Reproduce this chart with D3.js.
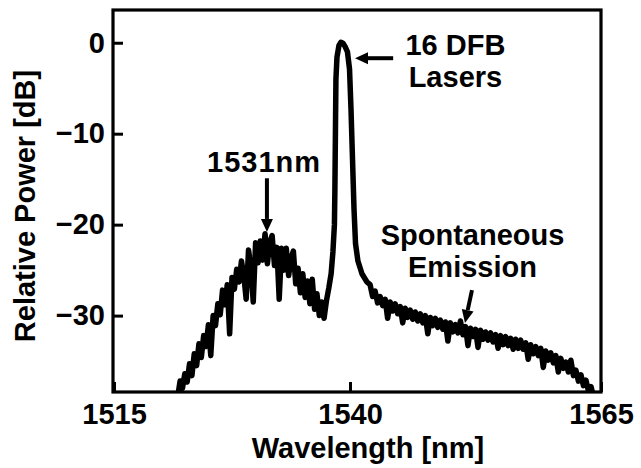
<!DOCTYPE html>
<html>
<head>
<meta charset="utf-8">
<script src="https://cdn.jsdelivr.net/npm/d3@7"></script>
<style>
  body { margin: 0; background: #fff; }
  text { font-family: "Liberation Sans", Arial, Helvetica, sans-serif; font-weight: bold; fill: #000; }
</style>
</head>
<body>
<script>
	// spectrum (nm, dB)
	var wavelength = [
		1521.75,1522,1522.25,1522.5,1522.75,1523,1523.25,1523.5,1523.75,1524,1524.25,1524.5,1524.75,
		1525,1525.25,1525.5,1525.75,1526,1526.25,1526.5,1526.75,1527,1527.25,1527.5,1527.75,
		1528,1528.25,1528.5,1528.75,1529,1529.25,1529.5,1529.75,1530,1530.25,1530.5,1530.75,
		1531,1531.25,1531.5,1531.75,1532,1532.25,1532.5,1532.75,1533,1533.25,1533.5,1533.75,
		1534,1534.25,1534.5,1534.75,1535,1535.25,1535.5,1535.75,1536,1536.25,1536.5,1536.75,
		1537,1537.25,1537.5,1537.75,1538,
		1538.19,1538.35,1538.40,1538.46,1538.51,1538.62,1538.83,1539.04,1539.26,1539.47,1539.73,
		1539.95,1540.10,1540.25,1540.40,1540.55,1540.79,1541.19,1541.69,
		1542,1542.25,1542.5,1542.75,1543,1543.25,1543.5,1543.75,1544,1544.25,1544.5,1544.75,
		1545,1545.25,1545.5,1545.75,1546,1546.25,1546.5,1546.75,1547,1547.25,1547.5,1547.75,
		1548,1548.25,1548.5,1548.75,1549,1549.25,1549.5,1549.75,1550,1550.25,1550.5,1550.75,
		1551,1551.25,1551.5,1551.75,1552,1552.25,1552.5,1552.75,1553,1553.25,1553.5,1553.75,
		1554,1554.25,1554.5,1554.75,1555,1555.25,1555.5,1555.75,1556,1556.25,1556.5,1556.75,
		1557,1557.25,1557.5,1557.75,1558,1558.25,1558.5,1558.75,1559,1559.25,1559.5,1559.75,
		1560,1560.25,1560.5,1560.75,1561,1561.25,1561.5,1561.75,1562,1562.25,1562.5,1562.75,
		1563,1563.25,1563.5,1563.75,1564,1564.25
	];
	var power = [
		-38.9,-37.2,-38.0,-36.4,-37.3,-35.3,-36.6,-34.2,-35.5,-33.1,-34.6,-32.2,-33.4,
		-31.0,-34.4,-30.0,-31.1,-28.7,-29.9,-27.2,-28.8,-26.6,-32.0,-25.8,-27.1,
		-24.9,-26.3,-24.0,-25.6,-28.2,-22.8,-24.6,-28.5,-22.0,-24.2,-21.8,-23.9,
		-21.0,-24.3,-21.9,-21.2,-24.5,-22.5,-28.2,-22.6,-25.0,-22.6,-25.6,-23.7,
		-22.9,-26.5,-24.8,-27.5,-25.4,-28.0,-26.2,-28.7,-26.0,-29.3,-27.6,-30.0,
		-28.5,-30.3,-28.4,-27.0,-25.4,
		-23.0,-20.0,-16.1,-9.5,-4.0,-1.6,-0.3,0.05,-0.05,-0.4,-1.0,
		-2.9,-7.3,-12.8,-18.3,-22.1,-24.0,-25.4,-26.3,
		-26.6,-27.9,-27.3,-28.6,-27.9,-28.9,-28.2,-30.3,-28.5,-29.5,-28.7,-29.8,
		-29.0,-30.8,-29.2,-30.2,-29.4,-30.4,-29.6,-30.6,-29.8,-30.8,-30.0,-32.0,
		-30.2,-31.1,-30.3,-31.3,-30.5,-31.5,-30.7,-32.8,-30.8,-31.8,-31.0,-31.9,
		-30.6,-32.1,-31.2,-33.3,-31.4,-32.3,-31.5,-33.5,-31.6,-32.6,-31.8,-32.7,
		-31.9,-32.9,-32.1,-33.6,-32.2,-33.2,-32.3,-33.3,-32.5,-33.7,-32.6,-33.6,
		-32.7,-33.7,-33.0,-34.8,-33.2,-34.2,-33.4,-34.4,-33.6,-35.7,-33.9,-34.9,
		-34.1,-35.2,-34.4,-36.2,-34.7,-35.8,-35.1,-36.2,-34.9,-36.6,-36.0,-37.2,
		-36.5,-37.7,-37.1,-38.3,-37.8,-38.9
	];

	var xTicks = [1515,1540,1565];
	var yTicks = [0,-10,-20,-30];
	var xDomain = [1515,1540,1565];
	var yDomain = [-38.4,3.6];

	var w = 641;
	var h = 468;
	var plotL = 113, plotR = 601, plotT = 10, plotB = 392;
	var fontSize = 29;

	var xScale = d3.scaleLinear()
					.domain(xDomain)
					.range([plotL+1,350,plotR]);

	var yScale = d3.scaleLinear()
					.domain(yDomain)
					.range([plotB,plotT]);

	var svg = d3.select("body")
				.append("svg")
				.attr("width",w)
				.attr("height",h);

	svg.append("rect")
		.attr("width",w)
		.attr("height",h)
		.attr("fill","#fff");

	svg.append("clipPath")
		.attr("id","plotclip")
		.append("rect")
		.attr("x",plotL)
		.attr("y",plotT)
		.attr("width",plotR-plotL)
		.attr("height",plotB-plotT);

	var points = wavelength.map(function(d,i){ return [d,power[i]]; });

	var line = d3.line()
				.x(function(d){ return xScale(d[0]); })
				.y(function(d){ return yScale(d[1]); });

	svg.append("path")
		.datum(points)
		.attr("clip-path","url(#plotclip)")
		.attr("d",line)
		.attr("fill","none")
		.attr("stroke","#000")
		.attr("stroke-width",5.5)
		.attr("stroke-linejoin","round")
		.attr("stroke-linecap","round");

	// axes with inward ticks
	var xAxis = svg.append("g")
		.attr("transform","translate(0,"+plotB+")")
		.call(d3.axisBottom(xScale)
				.tickValues(xTicks)
				.tickSize(-10)
				.tickSizeOuter(0)
				.tickPadding(11)
				.tickFormat(d3.format("d")));

	var yAxis = svg.append("g")
		.attr("transform","translate("+plotL+",0)")
		.call(d3.axisLeft(yScale)
				.tickValues(yTicks)
				.tickSize(-10)
				.tickSizeOuter(0)
				.tickPadding(8)
				.tickFormat(d3.format("d")));

	[xAxis,yAxis].forEach(function(g){
		g.select(".domain").remove();
		g.selectAll("line").attr("stroke","#000").attr("stroke-width",3);
		g.selectAll("text").attr("font-size",fontSize);
	});

	// frame
	svg.append("rect")
		.attr("x",plotL)
		.attr("y",plotT)
		.attr("width",plotR-plotL)
		.attr("height",plotB-plotT)
		.attr("fill","none")
		.attr("stroke","#000")
		.attr("stroke-width",3.2);

	svg.append("text")
		.attr("x",368)
		.attr("y",458)
		.attr("text-anchor","middle")
		.attr("font-size",fontSize)
		.text("Wavelength [nm]");

	svg.append("text")
		.attr("transform","translate(35,206) rotate(-90)")
		.attr("text-anchor","middle")
		.attr("font-size",fontSize)
		.text("Relative Power [dB]");

	// annotations, placed in data units
	var notes = [
		{lines:["1531nm"], x:1530.9, y:-14.2, spacing:1},
		{lines:["16 DFB","Lasers"], x:1550.5, y:-1.35, spacing:0},
		{lines:["Spontaneous","Emission"], x:1552.2, y:-22.24, spacing:0}
	];
	var arrows = [
		{from:[1531.2,-14.9], to:[1531.2,-20.8]},
		{from:[1544.3,-1.7], to:[1540.5,-1.7]},
		{from:[1552.15,-27.2], to:[1551.45,-30.8]}
	];

	notes.forEach(function(n){
		var t = svg.append("text")
			.attr("x",xScale(n.x))
			.attr("y",yScale(n.y))
			.attr("text-anchor","middle")
			.attr("font-size",fontSize)
			.attr("letter-spacing",n.spacing);
		n.lines.forEach(function(s,i){
			t.append("tspan")
				.attr("x",xScale(n.x))
				.attr("dy",i==0 ? 0 : 32)
				.text(s);
		});
	});

	arrows.forEach(function(a){
		var x1 = xScale(a.from[0]), y1 = yScale(a.from[1]);
		var x2 = xScale(a.to[0]), y2 = yScale(a.to[1]);
		var ang = Math.atan2(y2-y1,x2-x1);
		var len = 13, hw = 6;
		var bx = x2-len*Math.cos(ang), by = y2-len*Math.sin(ang);
		svg.append("line")
			.attr("x1",x1).attr("y1",y1)
			.attr("x2",bx).attr("y2",by)
			.attr("stroke","#000")
			.attr("stroke-width",4);
		svg.append("path")
			.attr("d","M"+x2+","+y2+
				"L"+(bx+hw*Math.sin(ang))+","+(by-hw*Math.cos(ang))+
				"L"+(bx-hw*Math.sin(ang))+","+(by+hw*Math.cos(ang))+"Z")
			.attr("fill","#000");
	});
</script>
</body>
</html>
